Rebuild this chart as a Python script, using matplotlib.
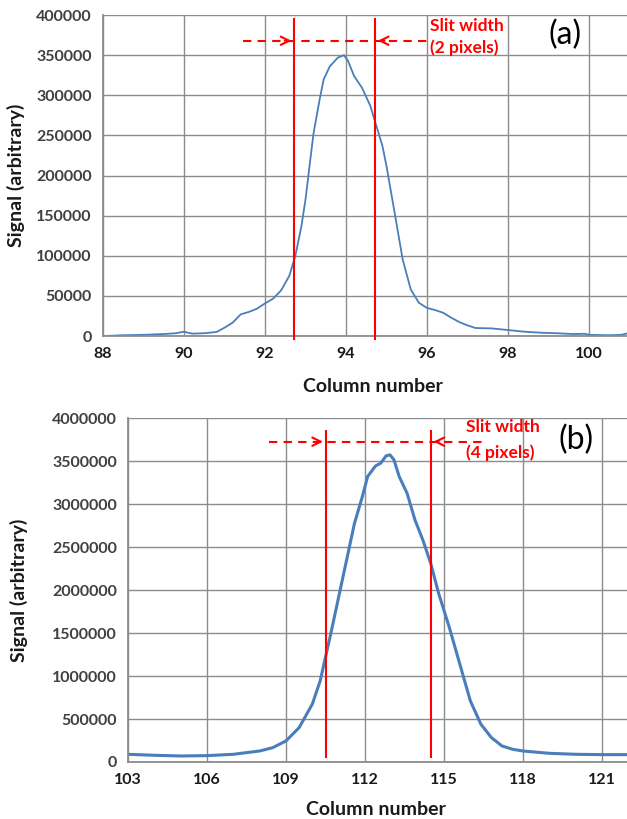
import numpy as np
import matplotlib.pyplot as plt

plt.rcParams['font.family'] = ['Lato', 'DejaVu Sans']

# panel (a): signal vs column number
col_a = [88.0, 88.5, 89.0, 89.5, 89.8, 90.0, 90.2, 90.5, 90.8, 91.0, 91.2, 91.4, 91.6,
         91.8, 92.0, 92.2, 92.4, 92.6, 92.75, 92.9, 93.0, 93.1, 93.2, 93.35, 93.45,
         93.6, 93.8, 93.95, 94.05, 94.2, 94.4, 94.6, 94.75, 94.9, 95.0, 95.2, 95.4,
         95.6, 95.8, 96.0, 96.2, 96.4, 96.6, 96.8, 97.0, 97.2, 97.6, 98.0, 98.4,
         98.8, 99.2, 99.6, 99.9, 100.0, 100.5, 100.8, 101.0]
sig_a = [0, 1000, 1500, 2500, 3500, 5400, 3000, 3500, 5000, 10400, 16600, 27000, 30000,
         34000, 40700, 46500, 57000, 75000, 100000, 137000, 170000, 212000, 253000,
         295000, 320000, 336000, 347000, 350000, 343000, 324000, 309000, 287000,
         262000, 237000, 212000, 154000, 95500, 58000, 41500, 35000, 32400, 29000,
         22800, 17400, 13300, 10000, 9500, 7500, 5400, 4200, 3500, 2500, 2800, 1500,
         1000, 1500, 4000]

# panel (b)
col_b = [103, 104, 105, 106, 107, 108, 108.5, 109, 109.5, 110, 110.3, 110.5, 110.7,
         111, 111.3, 111.6, 111.9, 112.1, 112.4, 112.6, 112.8, 112.95, 113.1, 113.3,
         113.6, 113.9, 114.2, 114.5, 114.8, 115.2, 115.6, 116.0, 116.4, 116.8, 117.2,
         117.6, 118, 119, 120, 121, 122]
sig_b = [89500, 78000, 70000, 74000, 89500, 128000, 167000, 245000, 400000, 673000,
         945000, 1218000, 1490000, 1918000, 2346000, 2774000, 3086000, 3319000,
         3443000, 3475000, 3560000, 3572000, 3514000, 3319000, 3124000, 2813000,
         2580000, 2307000, 1957000, 1568000, 1140000, 712000, 440000, 284000, 187000,
         148000, 128000, 101000, 89500, 85600, 85600]

xticks_a = [88, 90, 92, 94, 96, 98, 100]
yticks_a = [0, 50000, 100000, 150000, 200000, 250000, 300000, 350000, 400000]
xticks_b = [103, 106, 109, 112, 115, 118, 121]
yticks_b = [0, 500000, 1000000, 1500000, 2000000, 2500000, 3000000, 3500000, 4000000]

slit_a = [92.72, 94.72]
slit_b = [110.51, 114.5]

blue = '#4a7ebb'
grid_c = '#8c8c8c'

fig = plt.figure(figsize=(6.27, 8.19), dpi=100)
ax1 = fig.add_axes([0.1643, 0.5897, 0.8357, 0.3919])
ax2 = fig.add_axes([0.2041, 0.0696, 0.7959, 0.42])


def style(ax, xt, yt):
    ax.set_xticks(xt)
    ax.set_yticks(yt)
    ax.set_yticklabels([str(v) for v in yt])
    ax.grid(True, color=grid_c, lw=1.0)
    ax.set_axisbelow(True)
    for s in ['top', 'right']:
        ax.spines[s].set_visible(False)
    for s in ['left', 'bottom']:
        ax.spines[s].set_color(grid_c)
        ax.spines[s].set_linewidth(1.3)
    ax.tick_params(length=0, pad=8)
    for t in ax.get_xticklabels():
        t.set_fontsize(11.5)
        t.set_fontweight('bold')
        t.set_color('#1a1a1a')
    for t in ax.get_yticklabels():
        t.set_fontsize(11.5)
        t.set_fontweight('bold')
        t.set_color('#404040')


# (a)
ax1.plot(col_a, sig_a, color=blue, lw=1.3)
ax1.set_xlim(88, 100.94)
ax1.set_ylim(0, 400000)
style(ax1, xticks_a, yticks_a)
ax1.vlines(slit_a, -5000, 396000, color='red', lw=1.5, clip_on=False, zorder=3)
ya = 368000
ax1.plot([91.46, 95.99], [ya, ya], color='red', ls=(0, (4, 3)), lw=1.5)
ax1.annotate('', xy=(slit_a[0], ya), xytext=(slit_a[0] - 0.3, ya),
             arrowprops=dict(arrowstyle='->', color='red', lw=1.5, mutation_scale=15))
ax1.annotate('', xy=(slit_a[1], ya), xytext=(slit_a[1] + 0.3, ya),
             arrowprops=dict(arrowstyle='->', color='red', lw=1.5, mutation_scale=15))
ax1.text(96.07, 386000, 'Slit width', color='red', fontsize=12.5, fontweight='bold', va='center')
ax1.text(96.07, 359000, '(2 pixels)', color='red', fontsize=12.5, fontweight='bold', va='center')
ax1.text(99.4, 375000, '(a)', fontsize=23, ha='center', va='center')
ax1.set_xlabel('Column number', fontsize=14, fontweight='bold', color='#1a1a1a')
ax1.set_ylabel('Signal (arbitrary)', fontsize=14, fontweight='bold', color='#1a1a1a')
ax1.xaxis.set_label_coords(0.515, -0.131)
ax1.yaxis.set_label_coords(-0.149, 0.5)

# (b)
ax2.plot(col_b, sig_b, color=blue, lw=2.2)
ax2.set_xlim(103, 121.95)
ax2.set_ylim(0, 4000000)
style(ax2, xticks_b, yticks_b)
ax2.vlines(slit_b, 50000, 3860000, color='red', lw=1.5, zorder=3)
yb = 3725000
ax2.plot([108.36, 116.56], [yb, yb], color='red', ls=(0, (4, 3)), lw=1.5)
ax2.annotate('', xy=(slit_b[0], yb), xytext=(slit_b[0] - 0.4, yb),
             arrowprops=dict(arrowstyle='->', color='red', lw=1.5, mutation_scale=15))
ax2.annotate('', xy=(slit_b[1], yb), xytext=(slit_b[1] + 0.4, yb),
             arrowprops=dict(arrowstyle='->', color='red', lw=1.5, mutation_scale=15))
ax2.text(115.84, 3900000, 'Slit width', color='red', fontsize=12.5, fontweight='bold', va='center')
ax2.text(115.84, 3600000, '(4 pixels)', color='red', fontsize=12.5, fontweight='bold', va='center')
ax2.text(120.0, 3750000, '(b)', fontsize=23, ha='center', va='center')
ax2.set_xlabel('Column number', fontsize=14, fontweight='bold', color='#1a1a1a')
ax2.set_ylabel('Signal (arbitrary)', fontsize=14, fontweight='bold', color='#1a1a1a')
ax2.xaxis.set_label_coords(0.497, -0.113)
ax2.yaxis.set_label_coords(-0.20, 0.5)

fig.savefig('out.png', dpi=100)
